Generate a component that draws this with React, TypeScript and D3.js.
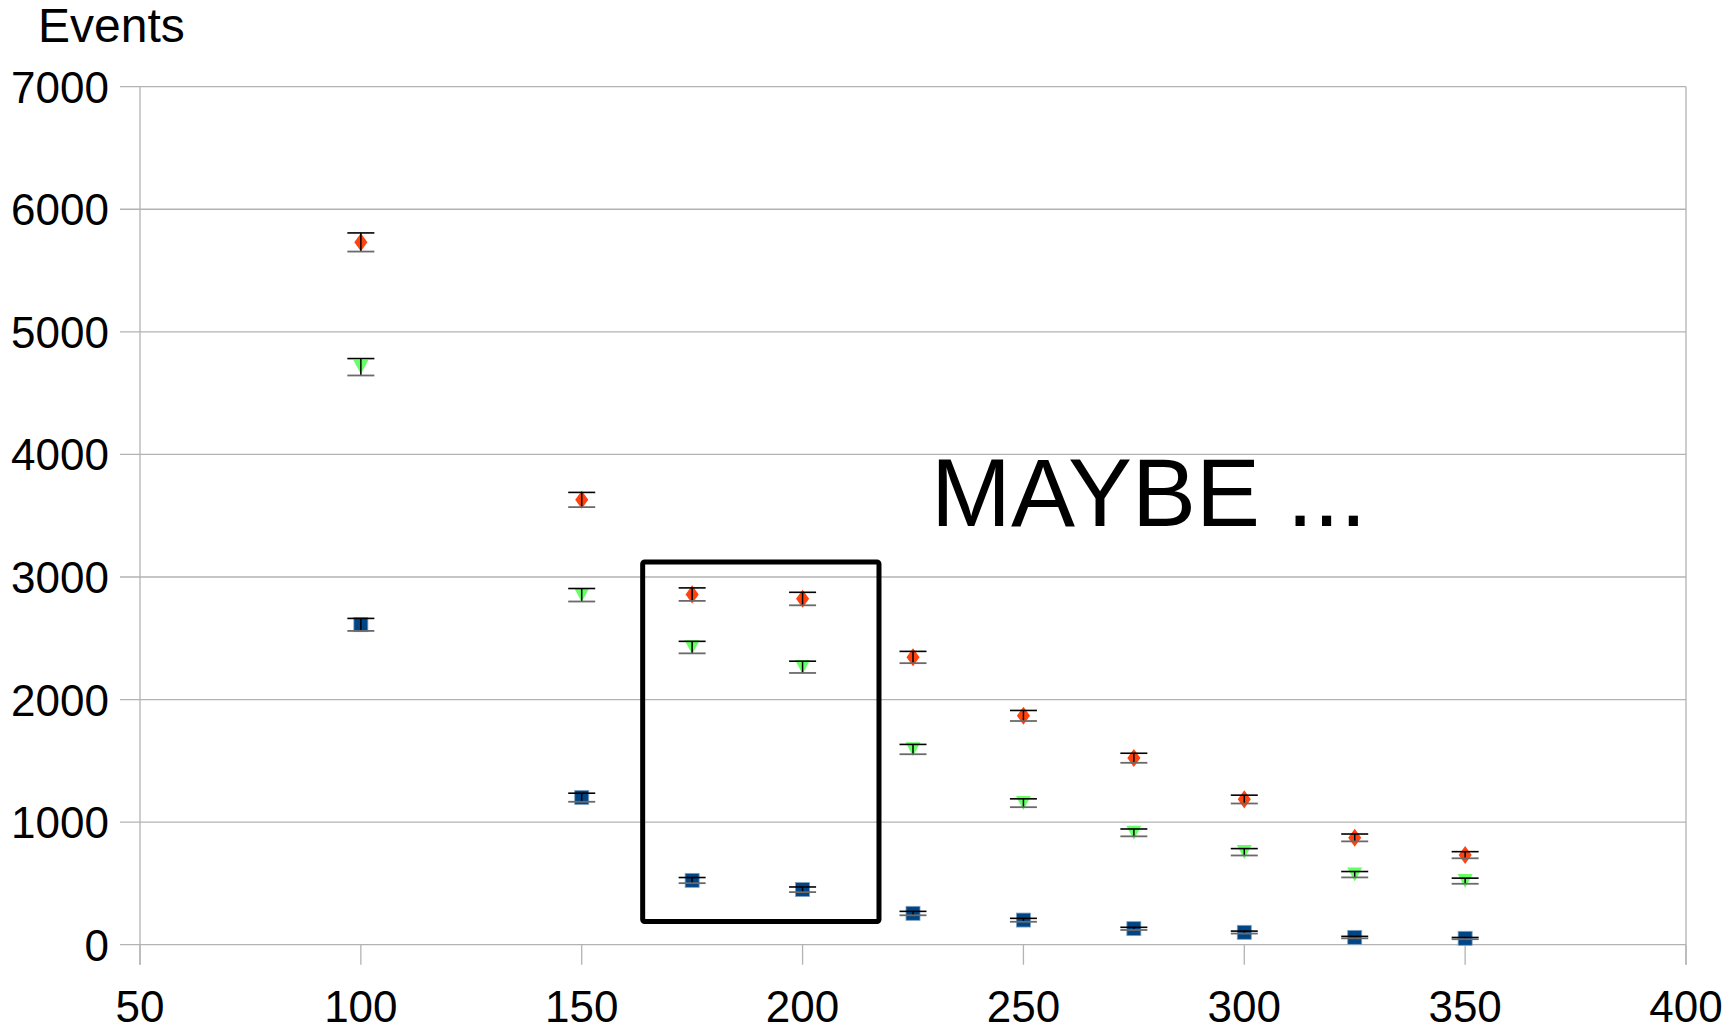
import React from "react";
import * as d3 from "d3";

const xValues = [100, 150, 175, 200, 225, 250, 275, 300, 325, 350];
const redValues = [5731, 3630, 2858, 2822, 2345, 1868, 1523, 1186, 873, 732];
const redErrors = [76, 60, 53, 53, 48, 43, 39, 34, 30, 27];
const greenValues = [4713, 2853, 2426, 2265, 1594, 1156, 914, 756, 573, 520];
const greenErrors = [69, 53, 49, 48, 40, 34, 30, 28, 24, 23];
const blueValues = [2611, 1201, 525, 450, 256, 201, 131, 101, 60, 52];
const blueErrors = [51, 35, 23, 21, 16, 14, 11, 10, 8, 7];

const xTicks = [50, 100, 150, 200, 250, 300, 350, 400];
const yTicks = [0, 1000, 2000, 3000, 4000, 5000, 6000, 7000];

const boxX = [163.8, 217.3];
const boxY = [189, 3122];

const yTitle = "Events";
const annotation = "MAYBE ...";

const FONT = "'Liberation Sans', Arial, sans-serif";
const GRID = "#b3b3b3";

type Series = { name: string; values: number[]; errors: number[]; color: string; shape: "diamond" | "triangle" | "square" };

const series: Series[] = [
  { name: "blue", values: blueValues, errors: blueErrors, color: "#004586", shape: "square" },
  { name: "green", values: greenValues, errors: greenErrors, color: "#66ff66", shape: "triangle" },
  { name: "red", values: redValues, errors: redErrors, color: "#ff420e", shape: "diamond" },
];

export default function App() {
  const W = 1729;
  const H = 1029;
  const x = d3.scaleLinear().domain([50, 400]).range([140, 1686]);
  const y = d3.scaleLinear().domain([0, 7000]).range([944.7, 86.7]);

  const marker = (s: Series, cx: number, cy: number) => {
    if (s.shape === "diamond") {
      const p = d3.symbol().type(d3.symbolDiamond).size(95)();
      return <path d={p as string} transform={`translate(${cx},${cy}) scale(1.25,1)`} fill={s.color} />;
    }
    if (s.shape === "triangle") {
      const h = 14, w = 15;
      return <path d={`M${cx - w / 2},${cy - h / 2}L${cx + w / 2},${cy - h / 2}L${cx},${cy + h / 2}Z`} fill={s.color} />;
    }
    return <rect x={cx - 7} y={cy - 7} width={14} height={14} fill={s.color} stroke="#7fa2c2" strokeWidth={0.8} />;
  };

  const capW = 13.5;

  return (
    <svg width={W} height={H} style={{ position: "absolute", left: 0, top: 0, background: "#fff" }}>
      <rect x={0} y={0} width={W} height={H} fill="#fff" />
      {yTicks.map((t) => (
        <line key={"g" + t} x1={120} x2={x(400)} y1={y(t)} y2={y(t)} stroke={GRID} strokeWidth={1.3} />
      ))}
      <line x1={x(50)} x2={x(50)} y1={y(7000)} y2={y(0) + 20} stroke={GRID} strokeWidth={1.3} />
      <line x1={x(400)} x2={x(400)} y1={y(7000)} y2={y(0) + 20} stroke={GRID} strokeWidth={1.3} />
      {xTicks.map((t) => (
        <line key={"xt" + t} x1={x(t)} x2={x(t)} y1={y(0)} y2={y(0) + 20} stroke={GRID} strokeWidth={1.3} />
      ))}
      {yTicks.map((t) => (
        <text key={"yl" + t} x={109} y={y(t) + 16} textAnchor="end" fontFamily={FONT} fontSize={44} fill="#000">
          {t}
        </text>
      ))}
      {xTicks.map((t) => (
        <text key={"xl" + t} x={x(t)} y={1021.5} textAnchor="middle" fontFamily={FONT} fontSize={44} fill="#000">
          {t}
        </text>
      ))}
      <text x={38} y={42} fontFamily={FONT} fontSize={48} fill="#000">
        {yTitle}
      </text>
      <text x={931} y={526} fontFamily={FONT} fontSize={96} fill="#000">
        {annotation}
      </text>
      <rect
        x={x(boxX[0])}
        y={y(boxY[1])}
        width={x(boxX[1]) - x(boxX[0])}
        height={y(boxY[0]) - y(boxY[1])}
        fill="none"
        stroke="#000"
        strokeWidth={5}
        rx={2}
        strokeLinejoin="round"
      />
      {series.map((s) => (
        <g key={s.name}>
          {xValues.map((xv, i) => {
            const cx = x(xv);
            const cy = y(s.values[i]);
            const yt = y(s.values[i] + s.errors[i]);
            const yb = y(s.values[i] - s.errors[i]);
            return (
              <g key={i}>
                {marker(s, cx, cy)}
                <line x1={cx} x2={cx} y1={yt} y2={yb} stroke="#000" strokeWidth={1.5} />
                <line x1={cx - capW} x2={cx + capW} y1={yt} y2={yt} stroke="#000" strokeWidth={1.6} />
                <line x1={cx - capW} x2={cx + capW} y1={yb} y2={yb} stroke="#6a6a6a" strokeWidth={1.8} />
              </g>
            );
          })}
        </g>
      ))}
    </svg>
  );
}
